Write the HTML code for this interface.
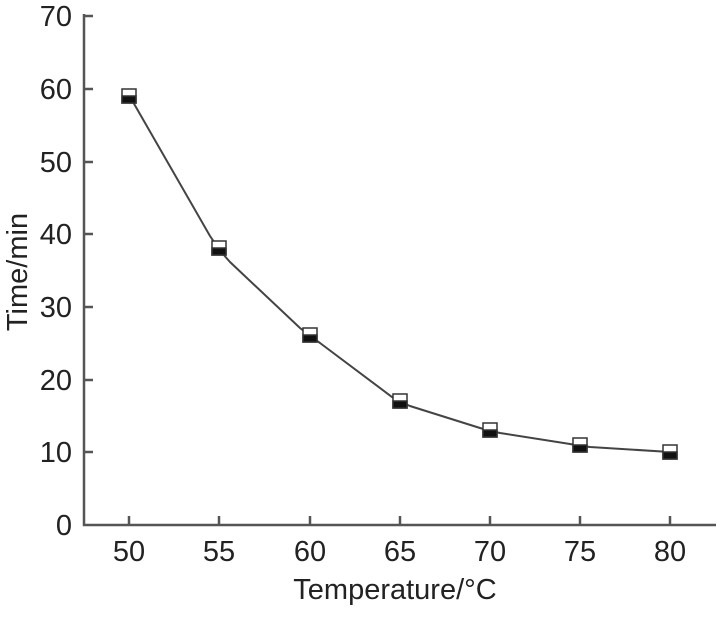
<!DOCTYPE html>
<html><head><style>body{margin:0;background:#fff}</style></head><body>
<svg width="727" height="624" xmlns="http://www.w3.org/2000/svg" style="font-family:'Liberation Sans',sans-serif;fill:#222">
<g stroke="#555" stroke-width="2.5" fill="none">
<polyline points="84,14 84,525 716,525"/>
<path d="M84,16h9M84,89h9M84,162h9M84,234h9M84,307h9M84,380h9M84,452h9"/>
<path d="M129,525v-9M219,525v-9M310,525v-9M400,525v-9M490,525v-9M580,525v-9M670,525v-9"/>
</g>
<path d="M129,95 L210,236 Q219,250 230,262 L300,328 Q310,336 320,343 L392,397 Q400,402 410,406 L480,428 Q490,431 500,433 L570,444 Q580,446 590,447 L670,452" stroke="#444" stroke-width="2" fill="none"/>
<g stroke="#333" stroke-width="1.5">
<g transform="translate(129,96)"><rect x="-7" y="-7" width="14" height="14" fill="#fff"/><rect x="-7" y="0" width="14" height="7" fill="#111"/></g>
<g transform="translate(219,248)"><rect x="-7" y="-7" width="14" height="14" fill="#fff"/><rect x="-7" y="0" width="14" height="7" fill="#111"/></g>
<g transform="translate(310,335)"><rect x="-7" y="-7" width="14" height="14" fill="#fff"/><rect x="-7" y="0" width="14" height="7" fill="#111"/></g>
<g transform="translate(400,401)"><rect x="-7" y="-7" width="14" height="14" fill="#fff"/><rect x="-7" y="0" width="14" height="7" fill="#111"/></g>
<g transform="translate(490,430)"><rect x="-7" y="-7" width="14" height="14" fill="#fff"/><rect x="-7" y="0" width="14" height="7" fill="#111"/></g>
<g transform="translate(580,445)"><rect x="-7" y="-7" width="14" height="14" fill="#fff"/><rect x="-7" y="0" width="14" height="7" fill="#111"/></g>
<g transform="translate(670,452)"><rect x="-7" y="-7" width="14" height="14" fill="#fff"/><rect x="-7" y="0" width="14" height="7" fill="#111"/></g>
</g>
<g font-size="29" text-anchor="end">
<text x="72" y="26">70</text><text x="72" y="99">60</text><text x="72" y="172">50</text><text x="72" y="244">40</text><text x="72" y="317">30</text><text x="72" y="390">20</text><text x="72" y="462">10</text><text x="72" y="535">0</text>
</g>
<g font-size="29" text-anchor="middle">
<text x="129" y="561">50</text><text x="219" y="561">55</text><text x="310" y="561">60</text><text x="400" y="561">65</text><text x="490" y="561">70</text><text x="580" y="561">75</text><text x="670" y="561">80</text>
<text x="395" y="599">Temperature/°C</text>
<text transform="translate(27,272) rotate(-90)">Time/min</text>
</g>
</svg>
</body></html>
